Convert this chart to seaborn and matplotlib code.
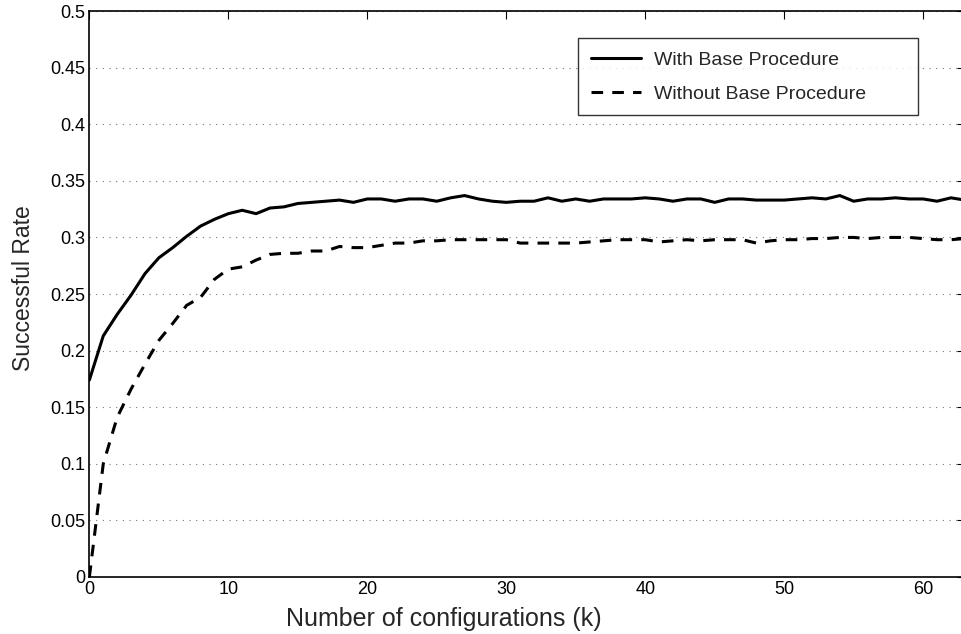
# Taxa de sucesso em função do número de configurações, com e sem o procedimento base
import numpy as np
import pandas as pd
import seaborn as sns
import matplotlib.pyplot as plt
from matplotlib.ticker import FuncFormatter

# Valores (k = 0..63)
k = list(range(64))

com_base = [
    0.174, 0.213, 0.232, 0.249, 0.268, 0.282, 0.291, 0.301, 0.310, 0.316,
    0.321, 0.324, 0.321, 0.326, 0.327, 0.330, 0.331, 0.332, 0.333, 0.331,
    0.334, 0.334, 0.332, 0.334, 0.334, 0.332, 0.335, 0.337, 0.334, 0.332,
    0.331, 0.332, 0.332, 0.335, 0.332, 0.334, 0.332, 0.334, 0.334, 0.334,
    0.335, 0.334, 0.332, 0.334, 0.334, 0.331, 0.334, 0.334, 0.333, 0.333,
    0.333, 0.334, 0.335, 0.334, 0.337, 0.332, 0.334, 0.334, 0.335, 0.334,
    0.334, 0.332, 0.335, 0.333,
]

sem_base = [
    0.000, 0.100, 0.141, 0.166, 0.188, 0.209, 0.224, 0.240, 0.247, 0.263,
    0.272, 0.274, 0.280, 0.285, 0.286, 0.286, 0.288, 0.288, 0.292, 0.291,
    0.291, 0.293, 0.295, 0.295, 0.297, 0.297, 0.298, 0.298, 0.298, 0.298,
    0.298, 0.295, 0.295, 0.295, 0.295, 0.295, 0.296, 0.297, 0.298, 0.298,
    0.298, 0.296, 0.297, 0.298, 0.297, 0.298, 0.298, 0.298, 0.295, 0.297,
    0.298, 0.298, 0.299, 0.299, 0.300, 0.300, 0.299, 0.300, 0.300, 0.300,
    0.299, 0.298, 0.298, 0.299,
]

rotulos = ["With Base Procedure", "Without Base Procedure"]

df = pd.DataFrame({
    "k": k * 2,
    "taxa": com_base + sem_base,
    "serie": [rotulos[0]] * len(k) + [rotulos[1]] * len(k),
})

sns.set_style("white")
plt.rcParams['font.family'] = ['Liberation Sans', 'DejaVu Sans']

fig = plt.figure(figsize=(9.61, 6.34), dpi=100)
ax = fig.add_axes([0.093, 0.090, 0.911, 0.8925])

sns.lineplot(data=df, x="k", y="taxa", style="serie", color="black",
             dashes={rotulos[0]: "", rotulos[1]: (3.8, 3.0)},
             linewidth=2.2, ax=ax)

ax.set_xlim(0, 63)
ax.set_ylim(0, 0.5)
ax.set_xticks(np.arange(0, 61, 10))
ax.set_yticks(np.arange(0, 0.501, 0.05))
ax.yaxis.set_major_formatter(FuncFormatter(lambda v, p: f"{v:g}"))

# grade pontilhada só na horizontal, estilo matlab
ax.yaxis.grid(True, linestyle=(0, (1, 5)), color="#777777", linewidth=0.8)
ax.xaxis.grid(False)

for s in ax.spines.values():
    s.set_color("black")
    s.set_linewidth(1.2)

ax.tick_params(direction="in", top=True, right=True, length=6, width=0.8,
               labelsize=13, colors="black", pad=3)

ax.set_xlabel("Number of configurations (k)", fontsize=18)
ax.set_ylabel("Successful Rate", fontsize=16.5)
ax.xaxis.set_label_coords(0.405, -0.054)
ax.yaxis.set_label_coords(-0.062, 0.511)

handles, labels = ax.get_legend_handles_labels()
leg = ax.legend(handles, labels, loc="upper left",
                bbox_to_anchor=(0.558, 0.952, 0.388, 0.0), mode="expand",
                borderaxespad=0, fontsize=14, frameon=True, fancybox=False,
                handlelength=2.6, handletextpad=0.65, labelspacing=0.85,
                borderpad=0.65)
leg.get_frame().set_edgecolor("black")
leg.get_frame().set_linewidth(1.0)

plt.savefig("out.png", dpi=100)
